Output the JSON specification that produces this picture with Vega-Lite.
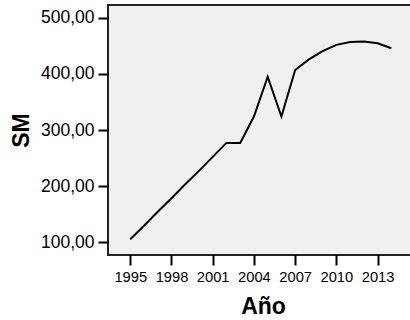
{
  "$schema": "https://vega.github.io/schema/vega-lite/v6.json",
  "autosize": "none",
  "width": 310,
  "height": 250,
  "padding": {"left": 108, "top": 5, "right": 0, "bottom": 65},
  "background": "white",
  "config": {
    "font": "Liberation Sans",
    "view": {"fill": "#f0f0f0", "stroke": "#222222", "strokeWidth": 2}
  },
  "data": {
    "values": [
      {"Año": 1995, "SM": 105},
      {"Año": 1996, "SM": 129},
      {"Año": 1997, "SM": 154},
      {"Año": 1998, "SM": 178},
      {"Año": 1999, "SM": 203},
      {"Año": 2000, "SM": 227},
      {"Año": 2001, "SM": 252},
      {"Año": 2002, "SM": 277},
      {"Año": 2003, "SM": 277},
      {"Año": 2004, "SM": 324},
      {"Año": 2005, "SM": 395},
      {"Año": 2006, "SM": 324},
      {"Año": 2007, "SM": 407},
      {"Año": 2008, "SM": 426},
      {"Año": 2009, "SM": 441},
      {"Año": 2010, "SM": 452},
      {"Año": 2011, "SM": 457},
      {"Año": 2012, "SM": 458},
      {"Año": 2013, "SM": 455},
      {"Año": 2014, "SM": 446}
    ]
  },
  "mark": {"type": "line", "color": "black", "strokeWidth": 2},
  "encoding": {
    "x": {
      "field": "Año",
      "type": "quantitative",
      "scale": {"domain": [1993.38, 2015.94], "nice": false, "zero": false},
      "axis": {
        "values": [1995, 1998, 2001, 2004, 2007, 2010, 2013],
        "format": "d",
        "grid": false,
        "domain": false,
        "tickColor": "black",
        "tickSize": 10,
        "tickWidth": 2,
        "labelFontSize": 14.7,
        "labelColor": "black",
        "labelPadding": 4,
        "labelFlush": false,
        "title": "Año",
        "titleFontSize": 23,
        "titleFontWeight": "bold",
        "titleColor": "black",
        "titlePadding": 12
      }
    },
    "y": {
      "field": "SM",
      "type": "quantitative",
      "scale": {"domain": [76.8, 523.2], "nice": false, "zero": false},
      "axis": {
        "values": [100, 200, 300, 400, 500],
        "labelExpr": "replace(format(datum.value, '.2f'), '.', ',')",
        "grid": false,
        "domain": false,
        "tickColor": "black",
        "tickSize": 10,
        "tickWidth": 2,
        "labelFontSize": 17.5,
        "labelColor": "black",
        "labelPadding": 4,
        "labelFlush": false,
        "title": "SM",
        "titleFontSize": 23,
        "titleFontWeight": "bold",
        "titleColor": "black",
        "titlePadding": 7
      }
    }
  }
}
